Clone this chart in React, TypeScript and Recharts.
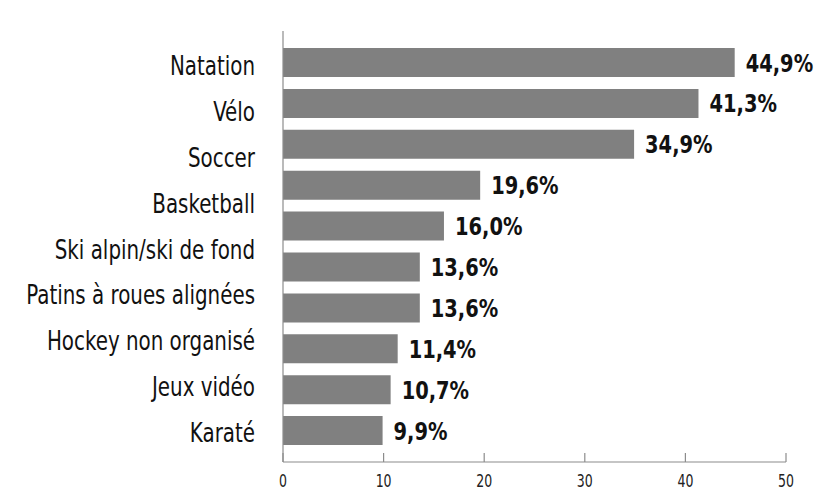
import { BarChart, Bar, XAxis, YAxis, LabelList } from "recharts";

// 10 bars, but the source chart prints only 9 names, spread evenly down the axis
const categories = [
  "Natation",
  "Vélo",
  "Soccer",
  "Basketball",
  "Ski alpin/ski de fond",
  "Patins à roues alignées",
  "Hockey non organisé",
  "Jeux vidéo",
  "Karaté",
];
const percents = [44.9, 41.3, 34.9, 19.6, 16.0, 13.6, 13.6, 11.4, 10.7, 9.9];
const labelTicks = [0, 1, 2, 3, 4, 5, 6, 7, 8];
const xTicks = [0, 10, 20, 30, 40, 50];

const FONT = '"DejaVu Sans Condensed", "DejaVu Sans", sans-serif';
const AXIS = "#8c8c8c";

const data = percents.map((value, i) => ({ rank: `r${i + 1}`, value }));

const fmt = (v: number) => v.toFixed(1).replace(".", ",") + "%";

function XTick(props: any) {
  const { x, y, payload } = props;
  return (
    <g>
      <line x1={x} x2={x} y1={y} y2={y - 9} stroke={AXIS} strokeWidth={1.2} />
      <text
        transform={`translate(${x},${y + 25}) scale(0.82,1)`}
        textAnchor="middle"
        fontFamily={FONT}
        fontSize={17}
        fill="#222"
      >
        {payload.value}
      </text>
    </g>
  );
}

function YTick(props: any) {
  const { x, y, payload } = props;
  const name = categories[Number(payload.value)];
  return (
    <text
      transform={`translate(${x},${y + 12.5}) scale(0.85,1)`}
      textAnchor="end"
      fontFamily={FONT}
      fontSize={26}
      fill="#111"
    >
      {name}
    </text>
  );
}

function ValueLabel(props: any) {
  const { x, y, width, height, value } = props;
  const tx = Number(x) + Number(width) + 11;
  const ty = Number(y) + Number(height) / 2 + 9;
  return (
    <text
      transform={`translate(${tx},${ty}) scale(0.9,1)`}
      textAnchor="start"
      fontFamily={FONT}
      fontSize={24}
      fontWeight={700}
      fill="#111"
    >
      {fmt(Number(value))}
    </text>
  );
}

export default function App() {
  return (
    <div style={{ position: "absolute", left: 0, top: 0, width: 817, height: 496, background: "#fff" }}>
      <BarChart
        width={817}
        height={496}
        data={data}
        layout="vertical"
        margin={{ top: 31, right: 31, left: 0, bottom: 4 }}
      >
        <XAxis
          type="number"
          domain={[0, 50]}
          ticks={xTicks}
          interval={0}
          height={30}
          stroke={AXIS}
          strokeWidth={1.2}
          tickLine={false}
          tickSize={0}
          tickMargin={0}
          tick={<XTick />}
        />
        <YAxis
          yAxisId="bars"
          type="category"
          dataKey="rank"
          width={0}
          axisLine={false}
          tickLine={false}
          tick={false}
          padding={{ top: 11, bottom: 11 }}
        />
        {/* with no series of its own this axis spans the row index, 0..9 */}
        <YAxis
          yAxisId="labels"
          type="number"
          domain={[0, 9]}
          allowDataOverflow
          ticks={labelTicks}
          interval={0}
          width={283}
          stroke={AXIS}
          strokeWidth={1.2}
          tickLine={false}
          tickSize={0}
          tickMargin={28}
          padding={{ top: 31.5, bottom: -13.4 }}
          tick={<YTick />}
        />
        <Bar yAxisId="bars" dataKey="value" fill="#808080" barSize={29} isAnimationActive={false}>
          <LabelList dataKey="value" content={<ValueLabel />} />
        </Bar>
      </BarChart>
    </div>
  );
}
